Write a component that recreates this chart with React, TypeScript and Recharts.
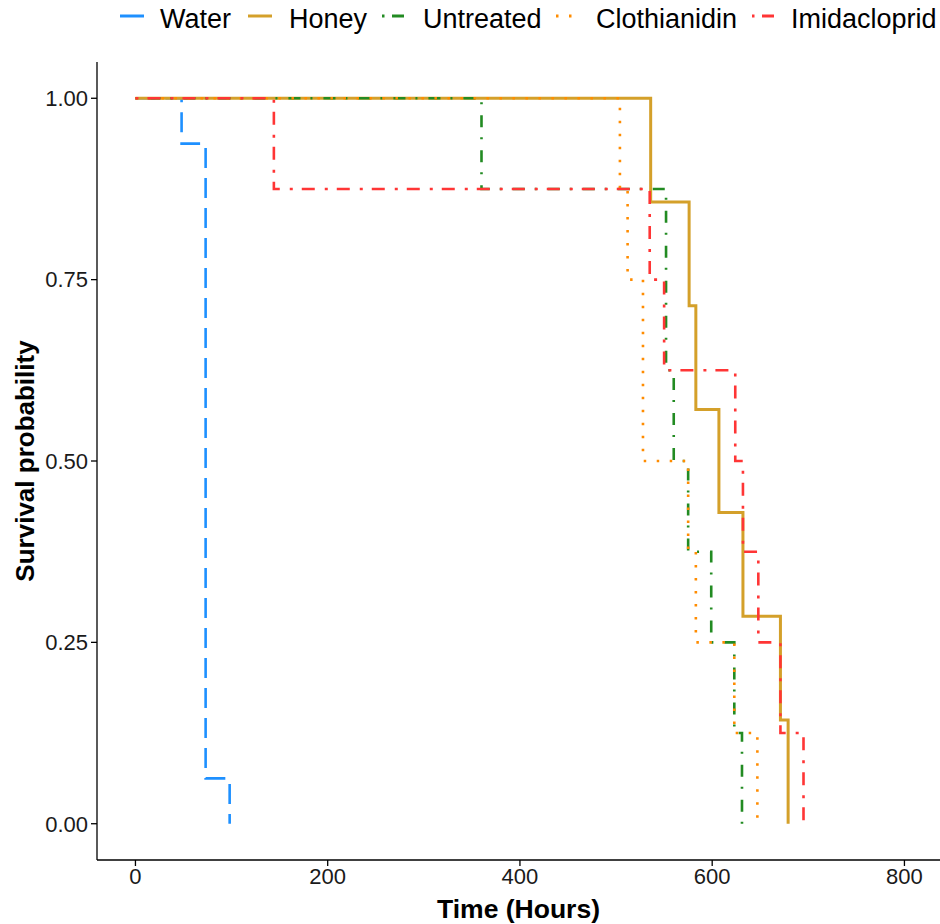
import React from 'react';
import { LineChart, Line, XAxis, YAxis } from 'recharts';

// Kaplan-Meier step points (time in hours, survival probability)
const waterTimes = [0, 48, 73, 98];
const waterSurv = [1, 0.9375, 0.0625, 0];

const honeyTimes = [0, 536, 576, 583, 607, 632, 671, 679];
const honeySurv = [1, 0.857, 0.714, 0.571, 0.429, 0.286, 0.143, 0];

const untreatedTimes = [0, 360, 552, 560, 575, 599, 623, 631];
const untreatedSurv = [1, 0.875, 0.625, 0.5, 0.375, 0.25, 0.125, 0];

const clothianidinTimes = [0, 504, 512, 528, 575, 583, 623, 647];
const clothianidinSurv = [1, 0.875, 0.75, 0.5, 0.375, 0.25, 0.125, 0];

const imidaclopridTimes = [0, 144, 535, 550, 624, 632, 648, 671, 695];
const imidaclopridSurv = [1, 0.875, 0.75, 0.625, 0.5, 0.375, 0.25, 0.125, 0];

const xTicks = [0, 200, 400, 600, 800];
const yTicks = [0, 0.25, 0.5, 0.75, 1];

const toPoints = (times: number[], surv: number[]) =>
  times.map((t, i) => ({ t, s: surv[i] }));

const series = [
  { name: 'Water', data: toPoints(waterTimes, waterSurv), color: '#1E90FF', dash: '20 10', width: 2.6, keyDash: undefined, keyX: 120, textX: 160 },
  { name: 'Honey', data: toPoints(honeyTimes, honeySurv), color: '#D4A02A', dash: undefined, width: 3, keyDash: undefined, keyX: 248, textX: 289 },
  { name: 'Untreated', data: toPoints(untreatedTimes, untreatedSurv), color: '#228B22', dash: '2 11 12 10', width: 2.6, keyDash: '0 1 2.5 7.5 12 10', keyX: 381, textX: 423 },
  { name: 'Clothianidin', data: toPoints(clothianidinTimes, clothianidinSurv), color: '#FF8C00', dash: '2.5 10.5', width: 2.6, keyDash: '0 1 2.5 10.5 2.5 20', keyX: 555, textX: 596 },
  { name: 'Imidacloprid', data: toPoints(imidaclopridTimes, imidaclopridSurv), color: '#FF3535', dash: '3 9 13 10', width: 2.6, keyDash: '0 1 2.5 7.5 12 10', keyX: 751, textX: 791 },
];

const font = '"Liberation Sans", Arial, sans-serif';

const TopLegend = () => (
  <svg width={940} height={40} style={{ position: 'absolute', left: 0, top: 0 }}>
    {series.map((s) => (
      <g key={s.name}>
        <line
          x1={s.keyX}
          x2={s.keyX + 24}
          y1={16}
          y2={16}
          stroke={s.color}
          strokeWidth={3}
          strokeDasharray={s.keyDash}
        />
        <text x={s.textX} y={28} fontFamily={font} fontSize={27} fill="#000">
          {s.name}
        </text>
      </g>
    ))}
  </svg>
);

export default function App() {
  return (
    <div style={{ position: 'absolute', left: 0, top: 0, width: 940, height: 924, background: '#fff', overflow: 'hidden' }}>
      <TopLegend />
      <LineChart width={940} height={924} margin={{ top: 62, right: 0, bottom: 0, left: 0 }}>
        <XAxis
          dataKey="t"
          type="number"
          domain={[-40, 837]}
          ticks={xTicks}
          allowDataOverflow
          height={64}
          stroke="#000"
          strokeWidth={1.3}
          tickSize={6}
          tick={{ fill: '#1a1a1a', fontSize: 22, fontFamily: font }}
          tickMargin={2}
          label={{
            value: 'Time (Hours)',
            position: 'insideBottom',
            offset: 6,
            style: { fill: '#000', fontSize: 26.5, fontWeight: 'bold', fontFamily: font },
          }}
        />
        <YAxis
          dataKey="s"
          type="number"
          domain={[-0.05, 1.05]}
          ticks={yTicks}
          tickFormatter={(v: number) => v.toFixed(2)}
          width={97}
          stroke="#000"
          strokeWidth={1.3}
          tickSize={6}
          tickMargin={3}
          tick={{ fill: '#1a1a1a', fontSize: 22, fontFamily: font }}
          label={{
            value: 'Survival probability',
            angle: -90,
            position: 'insideLeft',
            offset: 25,
            style: { textAnchor: 'middle', fill: '#000', fontSize: 26, fontWeight: 'bold', fontFamily: font },
          }}
        />
        {series.map((s) => (
          <Line
            key={s.name}
            data={s.data}
            dataKey="s"
            name={s.name}
            type="stepAfter"
            stroke={s.color}
            strokeWidth={s.width}
            strokeDasharray={s.dash}
            dot={false}
            activeDot={false}
            isAnimationActive={false}
          />
        ))}
      </LineChart>
    </div>
  );
}
